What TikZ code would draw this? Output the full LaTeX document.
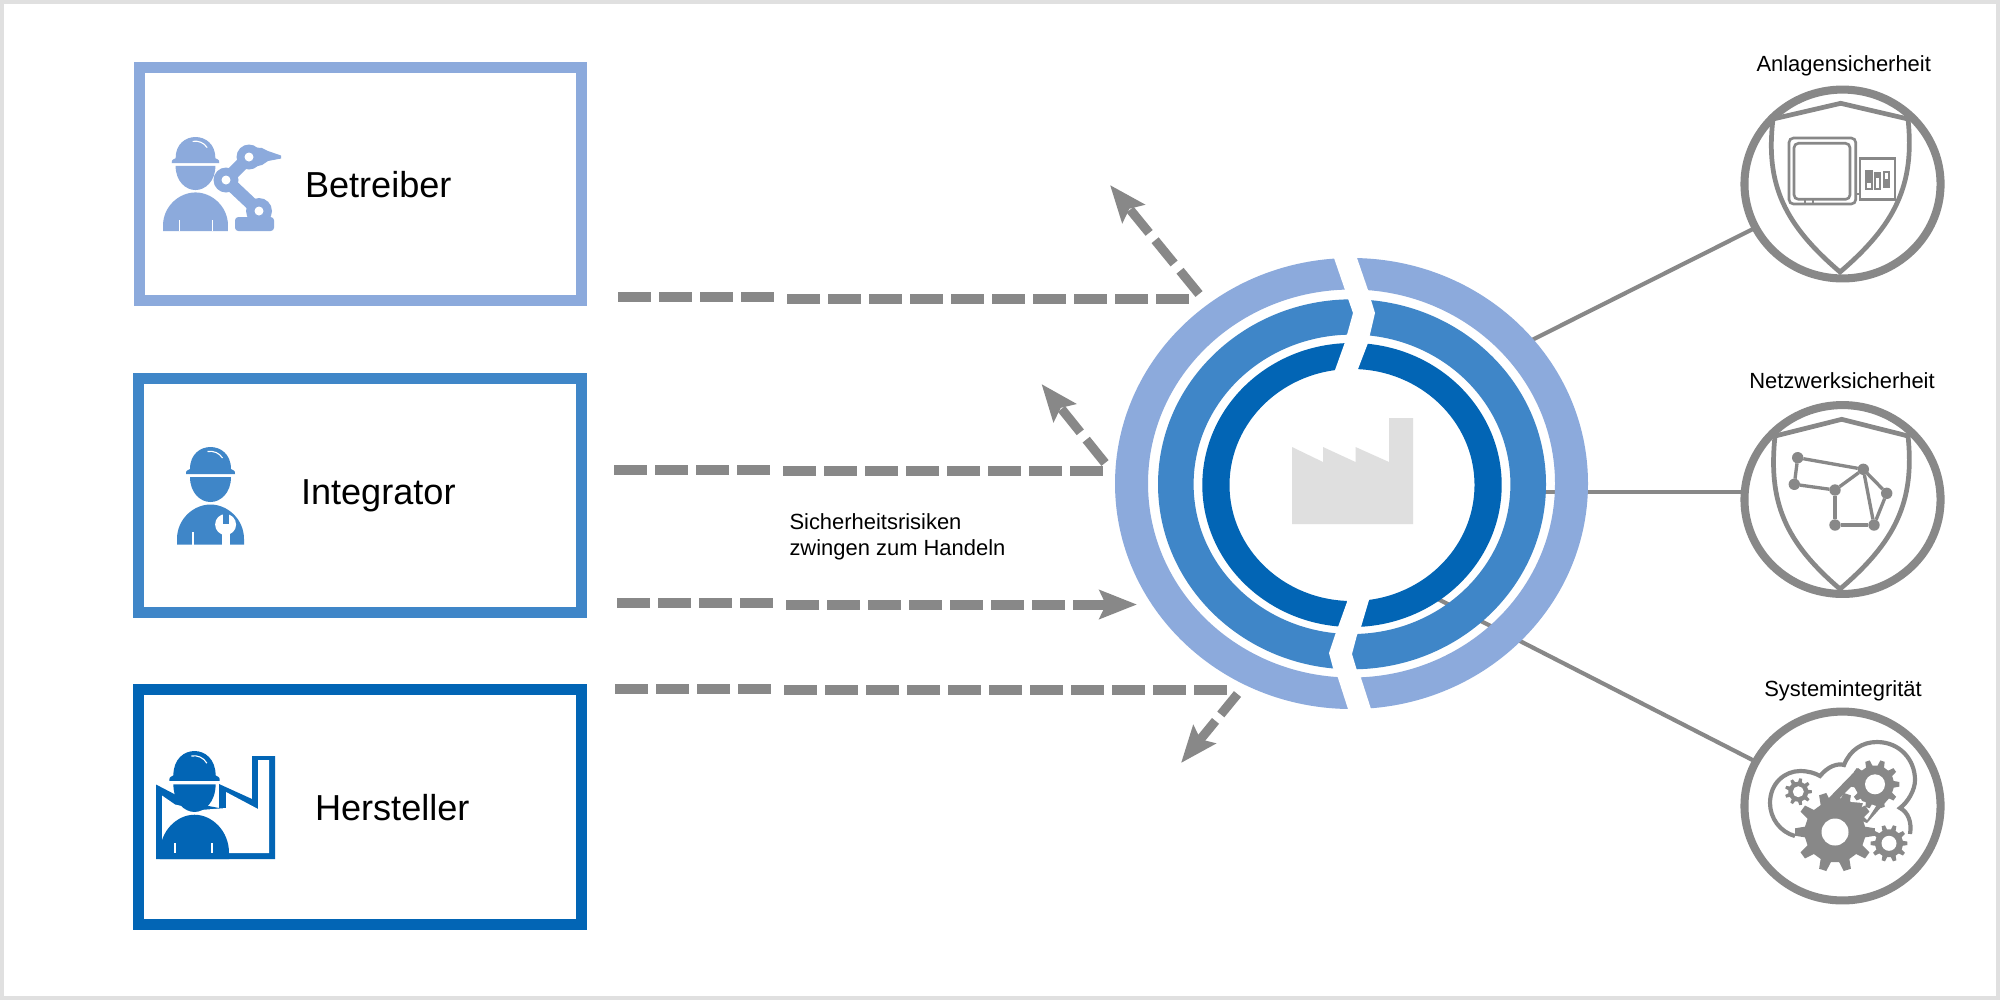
\documentclass[tikz,border=0pt]{standalone}
\usepackage{fontspec}
\setmainfont{Liberation Sans}
\usetikzlibrary{arrows.meta,shapes.geometric}
\definecolor{cLight}{HTML}{8CAADC}
\definecolor{cMid}{HTML}{3F86C8}
\definecolor{cDark}{HTML}{0265B5}
\definecolor{cGrey}{HTML}{888888}
\definecolor{cFact}{HTML}{DFDFDF}
\definecolor{cFrame}{HTML}{E0E0E0}
\tikzset{
  rolebox/.style={rectangle,line width=3.8pt,fill=white,inner sep=0pt,outer sep=0pt},
  rolelabel/.style={anchor=base west,inner sep=0pt,outer sep=0pt,font=\fontsize{13}{15}\selectfont},
  smalllabel/.style={anchor=base,inner sep=0pt,outer sep=0pt,font=\fontsize{7.9}{9.4}\selectfont},
  notelabel/.style={anchor=base west,inner sep=0pt,outer sep=0pt,font=\fontsize{7.9}{9.4}\selectfont},
  flat/.style={draw=cGrey,line width=3.6pt,dash pattern=on 11.8pt off 2.96pt},
  slant/.style={draw=cGrey,line width=3.3pt,dash pattern=on 10.8pt off 3.4pt,
    -{Stealth[length=13.2pt,width=10.2pt,inset=2.2pt]}},
  flathead/.style={flat,-{Stealth[length=13.4pt,width=10.2pt,inset=2.2pt]}},
  spoke/.style={draw=cGrey,line width=1.5pt},
  badge/.style={ellipse,draw=cGrey,line width=2.9pt,minimum width=70.6pt,minimum height=68pt,inner sep=0pt,outer sep=0pt,fill=white},
  shield/.style={draw=cGrey,line width=1.7pt,line join=miter},
  thin grey/.style={draw=cGrey,line width=0.95pt},
  netdot/.style={circle,fill=cGrey,minimum size=4.1pt,inner sep=0pt,outer sep=0pt},
  netedge/.style={draw=cGrey,line width=1.2pt},
}
\newcommand{\personicon}[5]{%
  \begin{scope}[shift={(#1,#2)},xscale=#3,yscale=#4]
    \fill[#5] (-24.5,27) .. controls (-25.5,25) and (-24,23.5) .. (-20.5,22) .. controls (-20.5,7) and (-10,0) .. (0,0)
      .. controls (10,0) and (20.5,7) .. (20.5,22) .. controls (24,23.5) and (25.5,25) .. (24.5,27) -- cycle;
    \draw[white,line width=0.4pt] (-3,4.5) .. controls (3,3.5) and (9,6) .. (12,11);
    \fill[#5] (-20.5,30) -- (20.5,30) .. controls (20.5,46) and (10,55) .. (0,55)
      .. controls (-10,55) and (-20.5,46) .. (-20.5,30) -- cycle;
    \fill[#5] (-33.5,97.5) -- (-33.5,92) .. controls (-33.5,72) and (-17,57.5) .. (0,57.5)
      .. controls (17,57.5) and (33.5,72) .. (33.5,92) -- (33.5,97.5) -- cycle;
  \end{scope}}
\newcommand{\gearicon}[6]{%
  \fill[cGrey] ({#1+#4*cos(-0.28*360/#6)},{#2+#4*sin(-0.28*360/#6)})
    \foreach \i in {0,...,#6}{
      -- ({#1+#4*cos((\i-0.28)*360/#6)},{#2+#4*sin((\i-0.28)*360/#6)})
      -- ({#1+#3*cos((\i-0.15)*360/#6)},{#2+#3*sin((\i-0.15)*360/#6)})
      -- ({#1+#3*cos((\i+0.15)*360/#6)},{#2+#3*sin((\i+0.15)*360/#6)})
      -- ({#1+#4*cos((\i+0.28)*360/#6)},{#2+#4*sin((\i+0.28)*360/#6)})
    } -- cycle;
  \fill[white] (#1,#2) circle[radius=#5];}
\begin{document}
\begin{tikzpicture}[x=0.36pt,y=-0.36pt]
\useasboundingbox (0,0) rectangle (2000,1000);
\fill[white] (0,0) rectangle (2000,1000);
\draw[cFrame,line width=1.6pt] (2.2,2.2) rectangle (1997.8,997.8);

% role boxes
\node[rolebox,draw=cLight,minimum width=159.3pt,minimum height=84pt] (bBetr) at (360.5,184) {};
\node[rolebox,draw=cMid,minimum width=159.6pt,minimum height=84.4pt] (bInt) at (360,495.5) {};
\node[rolebox,draw=cDark,minimum width=159.6pt,minimum height=84.6pt] (bHer) at (360,807.25) {};
\node[rolelabel] (lBetr) at (305,197) {Betreiber};
\node[rolelabel] (lInt) at (301,504.5) {Integrator};
\node[rolelabel] (lHer) at (315,820) {Hersteller};

% Betreiber icon
\draw[cLight,line width=4.6pt] (259,211) -- (226,180) -- (249,157);
\fill[cLight] (226,180) circle[radius=12.5];
\fill[cLight] (249,157) circle[radius=12.5];
\fill[cLight] (259,211) circle[radius=13];
\fill[cLight] (249,147) -- (262,148) -- (268,151) -- (281,155.5) -- (281,158.5) -- (268,161) -- (262,165) -- (249,168) -- cycle;
\fill[cLight,rounded corners=1.2pt] (235,217) rectangle (274,231);
\fill[white] (226,180) circle[radius=4.5];
\fill[white] (249,157) circle[radius=4.5];
\fill[white] (259,211) circle[radius=4.5];
\personicon{195.5}{137}{0.97}{0.964}{cLight}
\fill[white] (178.5,220) rectangle (180,231);
\fill[white] (211.5,220) rectangle (213,231);

% Integrator icon
\personicon{210.5}{447}{1}{1}{cMid}
\fill[white] (192.3,532) rectangle (194.3,545);
\fill[white] (221.5,528) rectangle (229.5,545);
\fill[white] (225.6,524.5) circle[radius=10.5];
\fill[cMid] (222.6,512) rectangle (228.6,524);

% Hersteller icon
\fill[cDark] (156,784.5) -- (178,796) -- (178,800) -- (219,808) -- (219,784) -- (252,799) -- (252,756) -- (275,756) -- (275,859) -- (156,859) -- cycle;
\fill[white] (162,795.5) -- (175,804.5) -- (200,810) -- (226,808) -- (226,792) -- (258,809) -- (258,760) -- (269,760) -- (269,853) -- (162,853) -- cycle;
\personicon{194.5}{751}{1.03}{1.108}{cDark}
\fill[white] (173.5,843) rectangle (175.5,853);
\fill[white] (211,843) rectangle (213,853);

% spokes (behind rings)
\coordinate (s1) at (1530,341);
\coordinate (s2a) at (1530,491.7);
\coordinate (s2b) at (1745,491.7);
\coordinate (s3) at (1432,596);
\node[badge] (c1) at (1842.5,184) {};
\node[badge] (c2) at (1842.5,499.5) {};
\node[badge] (c3) at (1842.5,806) {};
\draw[spoke] (s1) -- (c1);
\draw[spoke] (s2a) -- (s2b);
\draw[spoke] (s3) -- (c3);

% rings
\fill[cLight,even odd rule] (1351.5,483.5) ellipse[x radius=236.5,y radius=225.5] ellipse[x radius=203.5,y radius=194];
\fill[cMid,even odd rule] (1352,484.3) ellipse[x radius=194,y radius=185] ellipse[x radius=158.4,y radius=149.7];
\fill[cDark,even odd rule] (1352,485) ellipse[x radius=149.7,y radius=142] ellipse[x radius=122.5,y radius=116];
\fill[white] (1331,250) -- (1334,258) -- (1345,290) -- (1353,313) -- (1345,342) -- (1335,370)
  -- (1347,602) -- (1338,627) -- (1335,635) -- (1329,653) -- (1333,668) -- (1338,678) -- (1348,709) -- (1351,717)
  -- (1374,717) -- (1371,709) -- (1361,678) -- (1356.5,669) -- (1352,654) -- (1357,635) -- (1361,627) -- (1369,600)
  -- (1358,369) -- (1368,343) -- (1375,313) -- (1368,290) -- (1357,258) -- (1354,250) -- cycle;
% factory
\fill[cFact] (1292,524) -- (1292,447) -- (1323,462) -- (1323,447) -- (1355.5,462) -- (1355.5,447) -- (1389,462) -- (1389,418) -- (1413,418) -- (1413,524) -- cycle;

% dashed connectors
\coordinate (a1) at (618,297); \coordinate (a2) at (774,297);
\coordinate (a3) at (787,298.5); \coordinate (a4) at (1191,298.5);
\coordinate (a5) at (1199,294); \coordinate (a6) at (1110,185);
\draw[flat] (a1) -- (a2);
\draw[flat] (a3) -- (a4);
\draw[slant] (a5) -- (a6);
\coordinate (b1) at (614,470); \coordinate (b2) at (770,470);
\coordinate (b3) at (783,471); \coordinate (b4) at (1104,471);
\coordinate (b5) at (1105,463); \coordinate (b6) at (1041.5,384);
\draw[flat] (b1) -- (b2);
\draw[flat] (b3) -- (b4);
\draw[slant] (b5) -- (b6);
\coordinate (d1) at (617,603); \coordinate (d2) at (773,603);
\coordinate (d3) at (786,604.5); \coordinate (d4) at (1137,604.5);
\draw[flat] (d1) -- (d2);
\draw[flathead] (d3) -- (d4);
\coordinate (e1) at (615,689.3); \coordinate (e2) at (771,689.3);
\coordinate (e3) at (784,690.3); \coordinate (e4) at (1228,690.3);
\coordinate (e5) at (1237.5,694); \coordinate (e6) at (1181,763);
\draw[flat] (e1) -- (e2);
\draw[flat] (e3) -- (e4);
\draw[slant,dash pattern=on 9.5pt off 3pt] (e5) -- (e6);
\node[notelabel] (n1) at (789.5,529) {Sicherheitsrisiken};
\node[notelabel] (n2) at (789.5,555) {zwingen zum Handeln};

% badge labels
\node[smalllabel] (t1) at (1843.7,71) {Anlagensicherheit};
\node[smalllabel] (t2) at (1842,388) {Netzwerksicherheit};
\node[smalllabel] (t3) at (1843,696) {Systemintegrität};

% badge 1: shield + device
\draw[shield] (1773,119) -- (1840.7,103.3) -- (1908,119) .. controls (1915,185) and (1895,225) .. (1840,272) .. controls (1785,225) and (1765,185) .. (1773,119) -- cycle;
\draw[thin grey,rounded corners=1.6pt] (1789,138) rectangle (1855.7,204);
\draw[thin grey,rounded corners=1.6pt] (1794,143.3) rectangle (1850,199.3);
\draw[thin grey] (1855.7,194) -- (1860,194);
\draw[thin grey] (1805,199.3) -- (1805,204);
\draw[thin grey] (1813,199.3) -- (1813,204);
\draw[draw=cGrey,line width=1pt] (1860,158.3) rectangle (1895,199.3);
\fill[cGrey] (1865,170) rectangle (1872.7,190);
\fill[cGrey] (1874,172) rectangle (1881,190);
\fill[cGrey] (1882.7,171) rectangle (1890,188);
\fill[white] (1866.8,183) rectangle (1870.8,188);
\fill[white] (1875.6,178) rectangle (1879.4,188);
\fill[white] (1884.5,173) rectangle (1888.2,179);

% badge 2: shield + network
\draw[shield] (1775,436) -- (1841.7,419.3) -- (1908,436) .. controls (1915,502) and (1895,542) .. (1840,589) .. controls (1785,542) and (1768,502) .. (1775,436) -- cycle;
\node[netdot] (k1) at (1797.7,457.7) {};
\node[netdot] (k2) at (1794.3,484.3) {};
\node[netdot] (k3) at (1835,490) {};
\node[netdot] (k4) at (1863.3,469.3) {};
\node[netdot] (k5) at (1886.7,493.3) {};
\node[netdot] (k6) at (1874,525) {};
\node[netdot] (k7) at (1835,525) {};
\draw[netedge] (k1) -- (k2);
\draw[netedge] (k1) -- (k4);
\draw[netedge] (k2) -- (k3);
\draw[netedge] (k3) -- (k4);
\draw[netedge] (k3) -- (k7);
\draw[netedge] (k7) -- (k6);
\draw[netedge] (k4) -- (k6);
\draw[netedge] (k4) -- (k5);
\draw[netedge] (k5) -- (k6);

% badge 3: cloud + gears
\draw[draw=cGrey,line width=1.5pt] (1795,836) .. controls (1780,832) and (1770,818) .. (1770,803) .. controls (1770,783) and (1785,771) .. (1800,771) .. controls (1808,771) and (1815,773) .. (1820,776) .. controls (1828,766) and (1838,763) .. (1844,765) .. controls (1850,750) and (1862,742) .. (1877,742) .. controls (1900,742) and (1915,760) .. (1915,780) .. controls (1915,790) and (1908,802) .. (1900,808) .. controls (1908,812) and (1912,822) .. (1910,834);
\fill[cGrey] (1822,805) -- (1858,768) -- (1892,795) -- (1867,823) -- cycle;
\fill[white] (1840,798) -- (1853,785) -- (1862,801) -- (1876,806) -- (1867,820) -- (1860,813) -- (1863,803) -- (1852,802) -- cycle;
\gearicon{1835}{832}{40}{30.5}{13.5}{10}
\gearicon{1875}{784.3}{24.5}{19}{10}{10}
\gearicon{1889}{843.3}{18.5}{14}{7.5}{10}
\gearicon{1798.3}{791.7}{13.5}{10}{5.5}{9}
\end{tikzpicture}
\end{document}
